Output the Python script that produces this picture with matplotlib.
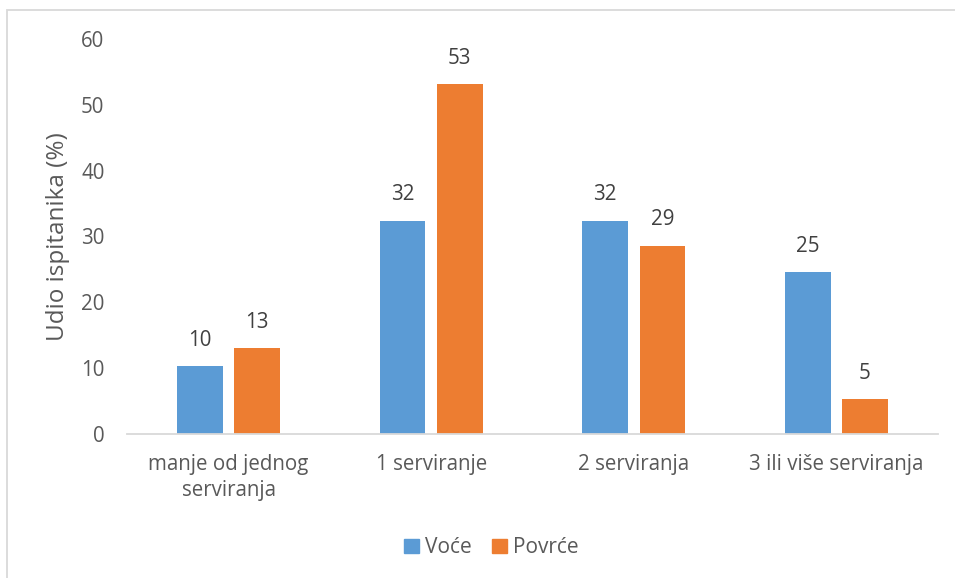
import matplotlib
matplotlib.use("Agg")
import matplotlib.pyplot as plt
import numpy as np
from matplotlib.patches import Rectangle, Patch

categories = ["manje od jednog\nserviranja", "1 serviranje", "2 serviranja", "3 ili više serviranja"]
series_names = ["Voće", "Povrće"]
voce = [10.3, 32.4, 32.4, 24.6]
povrce = [13.0, 53.1, 28.6, 5.2]
yticks = [0, 10, 20, 30, 40, 50, 60]

colors = ["#5B9BD5", "#ED7D31"]
plt.rcParams['font.family'] = ["Open Sans", "DejaVu Sans"]

W, H = 955, 578
fig = plt.figure(figsize=(W / 100, H / 100), dpi=100)
# plot area in pixels
left, right, top, bottom = 127.3, 937.7, 39.0, 433.7
ax = fig.add_axes([left / W, 1 - bottom / H, (right - left) / W, (bottom - top) / H])

x = np.arange(len(categories))
bw = 0.225
off = 0.141
b1 = ax.bar(x - off, voce, bw, color=colors[0], label=series_names[0], zorder=2)
b2 = ax.bar(x + off, povrce, bw, color=colors[1], label=series_names[1], zorder=2)

for bars, vals in ((b1, voce), (b2, povrce)):
    for rect, v in zip(bars, vals):
        ax.annotate(f"{v:.0f}", (rect.get_x() + rect.get_width() / 2, v),
                    xytext=(0, 18.5), textcoords="offset points",
                    ha="center", va="center", fontsize=14.8, color="#404040")

ax.set_xlim(-0.5, len(categories) - 0.5)
ax.set_ylim(0, 60)
ax.set_yticks(yticks)
ax.set_yticklabels([str(t) for t in yticks], fontsize=14.8, color="#595959")
ax.set_xticks(x)
ax.set_xticklabels(categories, fontsize=14.8, color="#595959", linespacing=1.3)
ax.tick_params(axis="both", length=0)
ax.tick_params(axis="y", pad=16.5)
ax.tick_params(axis="x", pad=14.5)
for s in ("top", "right", "left"):
    ax.spines[s].set_visible(False)
ax.spines["bottom"].set_color("#D9D9D9")
ax.spines["bottom"].set_linewidth(1.3)

ax.set_ylabel("Udio ispitanika (%)", fontsize=17.5, color="#595959",
              va="center", ha="center", rotation_mode="anchor")
ax.yaxis.set_label_coords((58 - left) / (right - left), 0.5)

handles = [Patch(color=colors[0], label=series_names[0]), Patch(color=colors[1], label=series_names[1])]
fig.legend(handles=handles, loc="center", bbox_to_anchor=(491.5 / W, 1 - 547.7 / H),
           ncol=2, frameon=False, fontsize=15, handlelength=0.7, handleheight=0.7,
           handletextpad=0.3, columnspacing=1.0, labelcolor="#595959")

# outer chart border
fig.patches.append(Rectangle((7 / W, -0.1), 1.2, 1.1 - 10 / H, transform=fig.transFigure,
                             fill=False, edgecolor="#D9D9D9", linewidth=1.3))

fig.savefig("out.png", dpi=100)
